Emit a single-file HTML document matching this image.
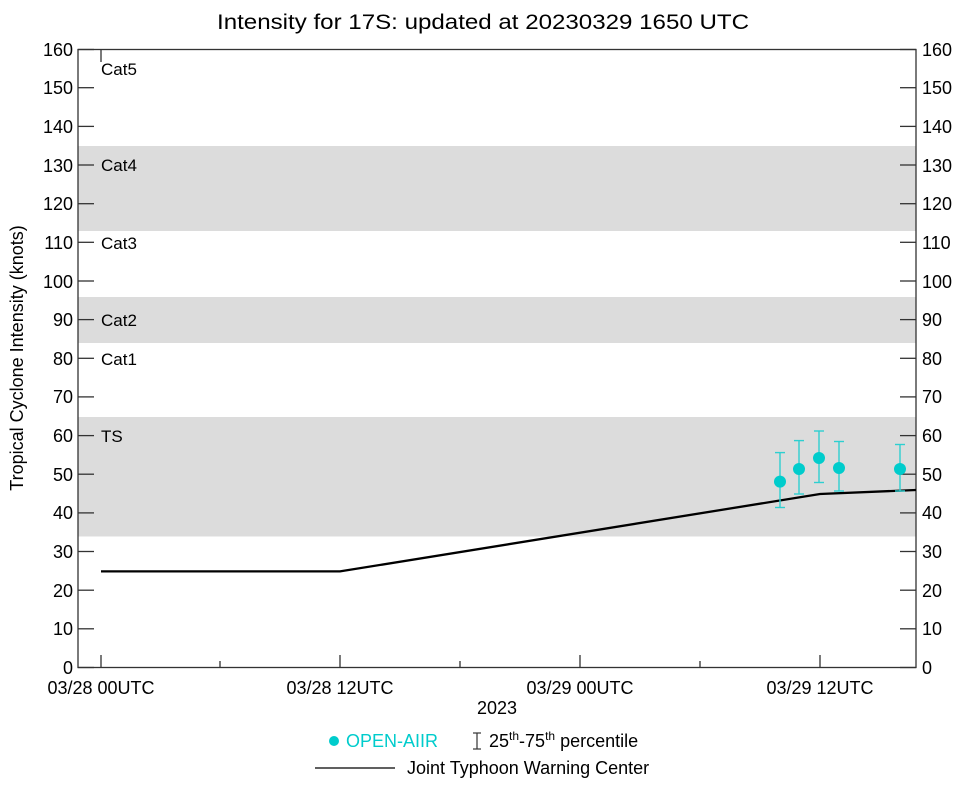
<!DOCTYPE html>
<html><head><meta charset="utf-8"><style>
html,body{margin:0;padding:0;background:#fff;}
svg{display:block;font-family:"Liberation Sans",sans-serif;}
</style></head><body>
<svg width="964" height="786" viewBox="0 0 964 786" xmlns="http://www.w3.org/2000/svg">
<rect width="964" height="786" fill="#fff"/>
<text x="483" y="29" font-size="21" text-anchor="middle" textLength="532" lengthAdjust="spacingAndGlyphs">Intensity for 17S: updated at 20230329 1650 UTC</text>
<rect x="78" y="146" width="838" height="85" fill="#dcdcdc"/>
<rect x="78" y="297" width="838" height="46" fill="#dcdcdc"/>
<rect x="78" y="417" width="838" height="119.5" fill="#dcdcdc"/>
<g font-size="17">
<text x="101" y="75">Cat5</text>
<text x="101" y="171">Cat4</text>
<text x="101" y="249">Cat3</text>
<text x="101" y="326">Cat2</text>
<text x="101" y="365">Cat1</text>
<text x="101" y="442">TS</text>
</g>
<g stroke="#333" stroke-width="1.3" fill="none">
<rect x="78" y="49.5" width="838" height="618"/>
</g>
<g stroke="#333" stroke-width="1.3">
<line x1="78" x2="94" y1="667.5" y2="667.5"/><line x1="900" x2="916" y1="667.5" y2="667.5"/>
<line x1="78" x2="94" y1="628.8" y2="628.8"/><line x1="900" x2="916" y1="628.8" y2="628.8"/>
<line x1="78" x2="94" y1="590.2" y2="590.2"/><line x1="900" x2="916" y1="590.2" y2="590.2"/>
<line x1="78" x2="94" y1="551.5" y2="551.5"/><line x1="900" x2="916" y1="551.5" y2="551.5"/>
<line x1="78" x2="94" y1="512.9" y2="512.9"/><line x1="900" x2="916" y1="512.9" y2="512.9"/>
<line x1="78" x2="94" y1="474.2" y2="474.2"/><line x1="900" x2="916" y1="474.2" y2="474.2"/>
<line x1="78" x2="94" y1="435.6" y2="435.6"/><line x1="900" x2="916" y1="435.6" y2="435.6"/>
<line x1="78" x2="94" y1="396.9" y2="396.9"/><line x1="900" x2="916" y1="396.9" y2="396.9"/>
<line x1="78" x2="94" y1="358.3" y2="358.3"/><line x1="900" x2="916" y1="358.3" y2="358.3"/>
<line x1="78" x2="94" y1="319.6" y2="319.6"/><line x1="900" x2="916" y1="319.6" y2="319.6"/>
<line x1="78" x2="94" y1="281.0" y2="281.0"/><line x1="900" x2="916" y1="281.0" y2="281.0"/>
<line x1="78" x2="94" y1="242.3" y2="242.3"/><line x1="900" x2="916" y1="242.3" y2="242.3"/>
<line x1="78" x2="94" y1="203.7" y2="203.7"/><line x1="900" x2="916" y1="203.7" y2="203.7"/>
<line x1="78" x2="94" y1="165.0" y2="165.0"/><line x1="900" x2="916" y1="165.0" y2="165.0"/>
<line x1="78" x2="94" y1="126.4" y2="126.4"/><line x1="900" x2="916" y1="126.4" y2="126.4"/>
<line x1="78" x2="94" y1="87.7" y2="87.7"/><line x1="900" x2="916" y1="87.7" y2="87.7"/>
<line x1="78" x2="94" y1="49.5" y2="49.5"/><line x1="900" x2="916" y1="49.5" y2="49.5"/>
<line x1="101" x2="101" y1="655" y2="667"/><line x1="340" x2="340" y1="655" y2="667"/>
<line x1="580" x2="580" y1="655" y2="667"/><line x1="820" x2="820" y1="655" y2="667"/>
<line x1="220" x2="220" y1="661" y2="667"/><line x1="460" x2="460" y1="661" y2="667"/>
<line x1="700" x2="700" y1="661" y2="667"/>
<line x1="101" x2="101" y1="50" y2="62"/>
</g>
<g font-size="18" text-anchor="end">
<text x="73" y="674">0</text><text x="73" y="635">10</text><text x="73" y="597">20</text>
<text x="73" y="558">30</text><text x="73" y="519">40</text><text x="73" y="481">50</text>
<text x="73" y="442">60</text><text x="73" y="403">70</text><text x="73" y="365">80</text>
<text x="73" y="326">90</text><text x="73" y="288">100</text><text x="73" y="249">110</text>
<text x="73" y="210">120</text><text x="73" y="172">130</text><text x="73" y="133">140</text>
<text x="73" y="94">150</text><text x="73" y="56">160</text>
</g>
<g font-size="18" text-anchor="start">
<text x="922" y="674">0</text><text x="922" y="635">10</text><text x="922" y="597">20</text>
<text x="922" y="558">30</text><text x="922" y="519">40</text><text x="922" y="481">50</text>
<text x="922" y="442">60</text><text x="922" y="403">70</text><text x="922" y="365">80</text>
<text x="922" y="326">90</text><text x="922" y="288">100</text><text x="922" y="249">110</text>
<text x="922" y="210">120</text><text x="922" y="172">130</text><text x="922" y="133">140</text>
<text x="922" y="94">150</text><text x="922" y="56">160</text>
</g>
<g font-size="18" text-anchor="middle">
<text x="101" y="694">03/28 00UTC</text>
<text x="340" y="694">03/28 12UTC</text>
<text x="580" y="694">03/29 00UTC</text>
<text x="820" y="694">03/29 12UTC</text>
<text x="497" y="714">2023</text>
</g>
<text transform="translate(23,358) rotate(-90)" font-size="18" text-anchor="middle">Tropical Cyclone Intensity (knots)</text>
<polyline points="101,571.4 340,571.4 820,494 916,490" fill="none" stroke="#000" stroke-width="2.3"/>
<g stroke="#2ecfd0" stroke-width="1.4">
<line x1="780" x2="780" y1="507.5" y2="452.6"/><line x1="775" x2="785" y1="507.5" y2="507.5"/><line x1="775" x2="785" y1="452.6" y2="452.6"/>
<line x1="799" x2="799" y1="494" y2="440.6"/><line x1="794" x2="804" y1="494" y2="494"/><line x1="794" x2="804" y1="440.6" y2="440.6"/>
<line x1="819" x2="819" y1="482.5" y2="431"/><line x1="814" x2="824" y1="482.5" y2="482.5"/><line x1="814" x2="824" y1="431" y2="431"/>
<line x1="839" x2="839" y1="491" y2="441.5"/><line x1="834" x2="844" y1="491" y2="491"/><line x1="834" x2="844" y1="441.5" y2="441.5"/>
<line x1="900" x2="900" y1="491" y2="444.5"/><line x1="895" x2="905" y1="491" y2="491"/><line x1="895" x2="905" y1="444.5" y2="444.5"/>
</g>
<g fill="#00cccc">
<circle cx="780" cy="481.6" r="6"/>
<circle cx="799" cy="469" r="6"/>
<circle cx="819" cy="458" r="6"/>
<circle cx="839" cy="468" r="6"/>
<circle cx="900" cy="469" r="6"/>
</g>
<circle cx="334" cy="741" r="5" fill="#00cccc"/>
<text x="346" y="747" font-size="18" fill="#00cccc">OPEN-AIIR</text>
<g stroke="#333" stroke-width="1.2">
<line x1="477" x2="477" y1="733" y2="749"/><line x1="473" x2="481" y1="733" y2="733"/><line x1="473" x2="481" y1="749" y2="749"/>
</g>
<text x="489" y="747" font-size="18">25<tspan font-size="12" dy="-7">th</tspan><tspan dy="7">-75</tspan><tspan font-size="12" dy="-7">th</tspan><tspan dy="7"> percentile</tspan></text>
<line x1="315" x2="395" y1="768" y2="768" stroke="#000" stroke-width="1.2"/>
<text x="407" y="774" font-size="18">Joint Typhoon Warning Center</text>
</svg>
</body></html>
